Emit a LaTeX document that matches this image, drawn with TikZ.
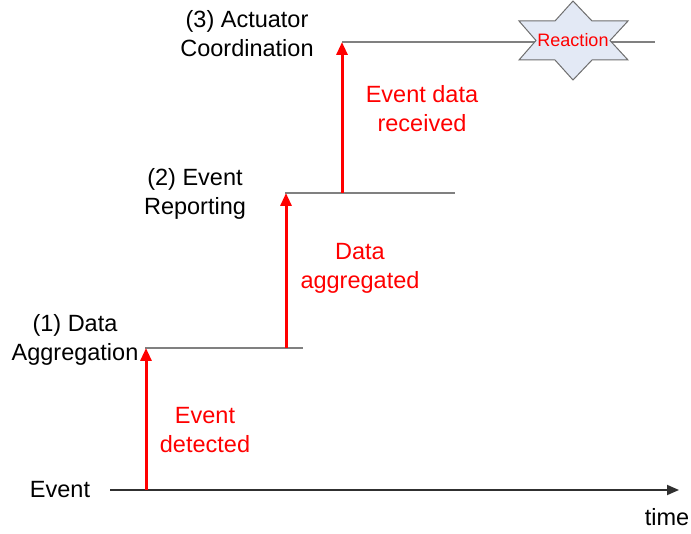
\documentclass[tikz,border=0pt]{standalone}
\usepackage{fontspec}
\setmainfont{Liberation Sans}
\usetikzlibrary{arrows.meta}
\definecolor{levelgray}{HTML}{808080}
\definecolor{axisgray}{HTML}{303030}
\definecolor{starfill}{HTML}{E3E9F5}
\definecolor{starline}{HTML}{6E6E6E}
\tikzset{
  lbl/.style={font=\fontsize{23.5}{29}\selectfont, align=center, inner sep=0pt, text=black},
  redlbl/.style={lbl, text=red},
  level/.style={draw=levelgray, line width=1.4pt},
  axis/.style={draw=axisgray, line width=1.8pt, -{Triangle[length=12pt,width=10pt]}},
  stepup/.style={draw=red, line width=3pt, -{Triangle[length=13pt,width=11pt]}},
}
\begin{document}
\begin{tikzpicture}[x=1pt,y=-1pt]
\useasboundingbox (0,0) rectangle (691,534);

% time axis
\coordinate (t0) at (110,490);
\coordinate (t1) at (679,490);
\draw[axis] (t0) -- (t1);
\node[lbl] (ev) at (60,490) {Event};
\node[lbl] (time) at (667,517) {time};

% level lines
\coordinate (l1a) at (145,348);
\coordinate (l1b) at (303,348);
\coordinate (l2a) at (285,193);
\coordinate (l2b) at (455,193);
\coordinate (l3a) at (342,42);
\coordinate (l3b) at (655,42);
\draw[level] (l1a) -- (l1b);
\draw[level] (l2a) -- (l2b);
\draw[level] (l3a) -- (l3b);

% stage labels
\node[lbl] (s1) at (75,340) {(1) Data\\Aggregation};
\node[lbl] (s2) at (195,194) {(2) Event\\Reporting};
\node[lbl] (s3) at (247,34) {(3) Actuator\\Coordination};

% transitions
\coordinate (a1s) at (146,490);
\coordinate (a1e) at (146,348);
\coordinate (a2s) at (286,348);
\coordinate (a2e) at (286,193);
\coordinate (a3s) at (342,193);
\coordinate (a3e) at (342,42);
\draw[stepup] (a1s) -- (a1e);
\draw[stepup] (a2s) -- (a2e);
\draw[stepup] (a3s) -- (a3e);

\node[redlbl] (r1) at (205,430) {Event\\detected};
\node[redlbl] (r2) at (360,268) {Data\\aggregated};
\node[redlbl] (r3) at (422,109) {Event data\\received};

% reaction star (two overlapping triangles)
\draw[fill=starfill, draw=starline, line width=1pt]
  (573,1) -- (592,21) -- (628,21) -- (610,40.5) -- (628,60) -- (592,60)
  -- (573,80) -- (555,60) -- (519,60) -- (536,40.5) -- (519,21) -- (555,21) -- cycle;
\node[font=\fontsize{18}{22}\selectfont, text=red, inner sep=0pt] (react) at (573,40) {Reaction};
\end{tikzpicture}
\end{document}
